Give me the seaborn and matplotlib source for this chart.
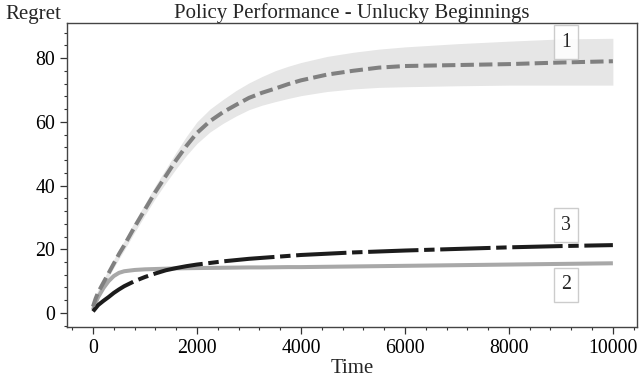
import matplotlib
matplotlib.use("Agg")
import matplotlib.pyplot as plt
import seaborn as sns
import pandas as pd
from matplotlib.ticker import MultipleLocator

# ---- data ----
time = [0, 50, 100, 200, 300, 400, 500, 600, 800, 1000, 1200, 1400, 1600, 1800,
        2000, 2250, 2500, 2750, 3000, 3250, 3500, 3750, 4000, 4500, 5000, 5500,
        6000, 7000, 8000, 9000, 10000]
policy1 = [2, 4.5, 6.5, 9.5, 12.5, 15.5, 18.5, 21.2, 27, 32.5, 38, 43, 48, 52.5,
           56.5, 60.2, 63, 65.3, 67.5, 69.1, 70.4, 71.8, 73, 74.8, 76, 77,
           77.5, 77.8, 78.1, 78.6, 79]
policy1_low = [1, 3.5, 5.5, 8.5, 11.3, 14.2, 17, 19.7, 25.3, 30.7, 36, 40.8, 45.3, 49.5,
               53.2, 56.8, 59.5, 61.8, 63.8, 65.2, 66.3, 67.3, 68.2, 69.5, 70.3, 70.8,
               71, 71.3, 71.5, 71.5, 71.5]
policy1_high = [3, 5.5, 7.5, 10.5, 13.7, 16.8, 20, 22.7, 28.7, 34.3, 40, 45.2, 50.5, 55.5,
                60, 64, 67, 69.8, 72.2, 74.2, 76, 77.4, 78.6, 80.5, 81.8, 82.8,
                83.5, 84.5, 85.3, 86, 86.2]
policy2 = [1, 3.2, 5, 7.8, 10, 11.6, 12.6, 13.1, 13.5, 13.7, 13.8, 13.9, 14, 14.05,
           14.1, 14.15, 14.2, 14.25, 14.3, 14.3, 14.35, 14.4, 14.4, 14.5, 14.6, 14.7,
           14.8, 15.0, 15.2, 15.4, 15.6]
policy3 = [0.5, 1.5, 2.5, 3.8, 5, 6.3, 7.4, 8.4, 10, 11.3, 12.4, 13.4, 14.1, 14.7,
           15.2, 15.7, 16.2, 16.6, 17, 17.3, 17.6, 17.9, 18.2, 18.6, 19, 19.3,
           19.6, 20.1, 20.6, 21, 21.3]
labels = ["1", "2", "3"]
label_x = [9100, 9100, 9100]
label_y = [85, 8.8, 27.6]

df = pd.DataFrame({"Time": time, "p1": policy1, "lo": policy1_low, "hi": policy1_high,
                   "p2": policy2, "p3": policy3})

sns.set_style("ticks")
plt.rcParams["font.family"] = ["Liberation Serif", "DejaVu Serif"]

fig = plt.figure(figsize=(6.4, 3.77), dpi=100)
ax = fig.add_axes([0.1047, 0.1326, 0.8903, 0.8064])

ax.fill_between(df["Time"], df["lo"], df["hi"], color="#e6e6e6", lw=0, zorder=1)
sns.lineplot(data=df, x="Time", y="p2", ax=ax, color="#a8a8a8", lw=2.9,
             solid_capstyle="butt", zorder=3)
sns.lineplot(data=df, x="Time", y="p3", ax=ax, color="#1c1c1c", lw=2.9,
             linestyle=(0, (12.5, 1.4, 2.6, 1.4)), zorder=4)
sns.lineplot(data=df, x="Time", y="p1", ax=ax, color="#808080", lw=2.9,
             linestyle=(0, (3.3, 1.3)), zorder=5)

for lab, lx, ly in zip(labels, label_x, label_y):
    ax.text(lx, ly, lab, ha="center", va="center", fontsize=14.3, zorder=6,
            bbox=dict(boxstyle="square,pad=0.36", fc="white", ec="#c4c4c4", lw=1, alpha=0.85))

ax.set_xlim(-500, 10460)
ax.set_ylim(-4.4, 91)
ax.xaxis.set_major_locator(MultipleLocator(2000))
ax.xaxis.set_minor_locator(MultipleLocator(400))
ax.yaxis.set_major_locator(MultipleLocator(20))
ax.yaxis.set_minor_locator(MultipleLocator(4))
ax.tick_params(which="major", length=5, width=0.9, color="#333333", labelsize=14.3,
               direction="out", labelcolor="black")
ax.tick_params(which="minor", length=2.5, width=0.8, color="#333333", direction="out")
for s in ax.spines.values():
    s.set_color("#444444")
    s.set_linewidth(1.0)

ax.set_title("Policy Performance - Unlucky Beginnings", fontsize=15, pad=2)
ax.set_xlabel("Time", fontsize=15, labelpad=1)
ax.set_ylabel("")
fig.text(0.008, 0.962, "Regret", fontsize=15, ha="left", va="center")

fig.savefig("out.png", dpi=100)
